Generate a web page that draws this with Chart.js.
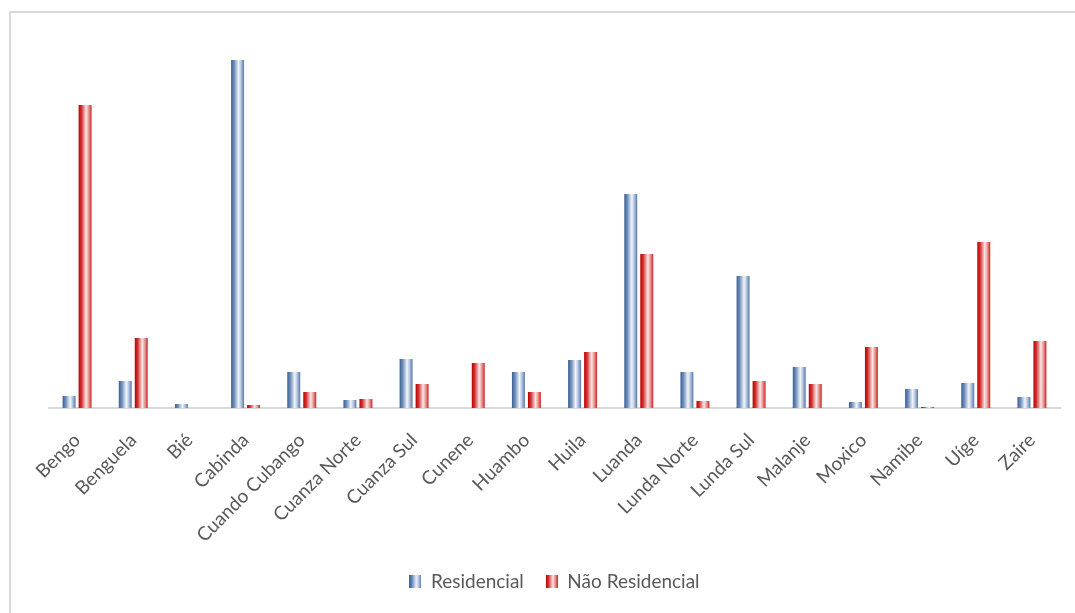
<!DOCTYPE html>
<html lang="pt">
<head>
<meta charset="utf-8">
<title>Residencial / Não Residencial por província</title>
<script src="https://cdn.jsdelivr.net/npm/chart.js@4/dist/chart.umd.min.js"></script>
<style>
  html, body { margin: 0; padding: 0; background: #fff; overflow: hidden; }
  #moldura {
    position: absolute; left: 9px; top: 11px; width: 1200px; height: 700px;
    border-left: 2px solid #d9d9d9; border-top: 2px solid #d9d9d9;
  }
  #wrap { position: absolute; left: 0; top: 0; width: 1075px; height: 613px; }
</style>
</head>
<body>
<div id="moldura"></div>
<div id="wrap"><canvas id="grafico"></canvas></div>
<script>
const provincias = ['Bengo', 'Benguela', 'Bié', 'Cabinda', 'Cuando Cubango', 'Cuanza Norte',
  'Cuanza Sul', 'Cunene', 'Huambo', 'Huila', 'Luanda', 'Lunda Norte', 'Lunda Sul',
  'Malanje', 'Moxico', 'Namibe', 'Uíge', 'Zaire'];
const residencial = [12, 27, 4, 348, 36, 8, 49, 0, 36, 48, 214, 36, 132, 41, 6, 19, 25, 11];
const naoResidencial = [303, 70, 0, 3, 16, 9, 24, 45, 16, 56, 154, 7, 27, 24, 61, 1, 166, 67];
const yMax = 380;

const CAT_PCT = 0.57;
const BAR_PCT = 0.81;

// cores do efeito "cilindro" (escuro -> branco -> médio)
const azul = [[0, '#3b5f92'], [0.25, '#7291bd'], [0.58, '#f3f6fb'], [0.8, '#a7bbd8'], [1, '#5577aa']];
const vermelho = [[0, '#c00000'], [0.22, '#cf3030'], [0.58, '#fbe8e8'], [0.8, '#e48d8d'], [1, '#cc2222']];

// gradiente horizontal para cada barra, calculado a partir da escala x
function barFill(c, stops) {
  const chart = c.chart;
  const xs = chart.scales && chart.scales.x;
  if (!xs || c.dataIndex === undefined) return stops[0][1];
  const catW = (xs.right - xs.left) / provincias.length;
  const slot = catW * CAT_PCT / 2;
  const w = slot * BAR_PCT;
  const cx = xs.getPixelForValue(c.dataIndex) + (c.datasetIndex - 0.5) * slot;
  if (!isFinite(cx) || !isFinite(w) || w <= 0) return stops[0][1];
  const g = chart.ctx.createLinearGradient(cx - w / 2, 0, cx + w / 2, 0);
  stops.forEach(([o, col]) => g.addColorStop(o, col));
  return g;
}

function swatch(stops) {
  const cv = document.createElement('canvas');
  cv.width = 12; cv.height = 13;
  const cx = cv.getContext('2d');
  const g = cx.createLinearGradient(0, 0, 12, 0);
  stops.forEach(([o, col]) => g.addColorStop(o, col));
  cx.fillStyle = g;
  cx.fillRect(0, 0, 12, 13);
  return cv;
}
const swatches = [swatch(azul), swatch(vermelho)];

Chart.defaults.font.family = 'Lato, "Open Sans", sans-serif';
Chart.defaults.color = '#595959';

new Chart(document.getElementById('grafico'), {
  type: 'bar',
  data: {
    labels: provincias,
    datasets: [
      { label: 'Residencial', data: residencial, backgroundColor: c => barFill(c, azul) },
      { label: 'Não Residencial', data: naoResidencial, backgroundColor: c => barFill(c, vermelho) }
    ]
  },
  options: {
    responsive: true,
    maintainAspectRatio: false,
    animation: false,
    categoryPercentage: CAT_PCT,
    barPercentage: BAR_PCT,
    layout: { padding: { top: 28, left: 49, right: 15, bottom: 12 } },
    plugins: {
      tooltip: { enabled: false },
      legend: {
        position: 'bottom',
        labels: {
          usePointStyle: true,
          boxWidth: 12,
          boxHeight: 13,
          padding: 22,
          font: { size: 19 },
          color: '#595959',
          generateLabels: chart => {
            const items = Chart.defaults.plugins.legend.labels.generateLabels(chart);
            items.forEach((it, i) => {
              it.pointStyle = swatches[i];
              it.lineWidth = 0;
              it.strokeStyle = 'transparent';
            });
            return items;
          }
        }
      }
    },
    scales: {
      x: {
        grid: { display: false },
        border: { display: true, color: '#d9d9d9', width: 2 },
        ticks: {
          autoSkip: false,
          minRotation: 45,
          maxRotation: 45,
          padding: 13,
          font: { size: 19 },
          color: '#595959'
        },
        afterFit: s => { s.height = 142; }
      },
      y: {
        display: false,
        min: 0,
        max: yMax
      }
    }
  }
});
</script>
</body>
</html>
